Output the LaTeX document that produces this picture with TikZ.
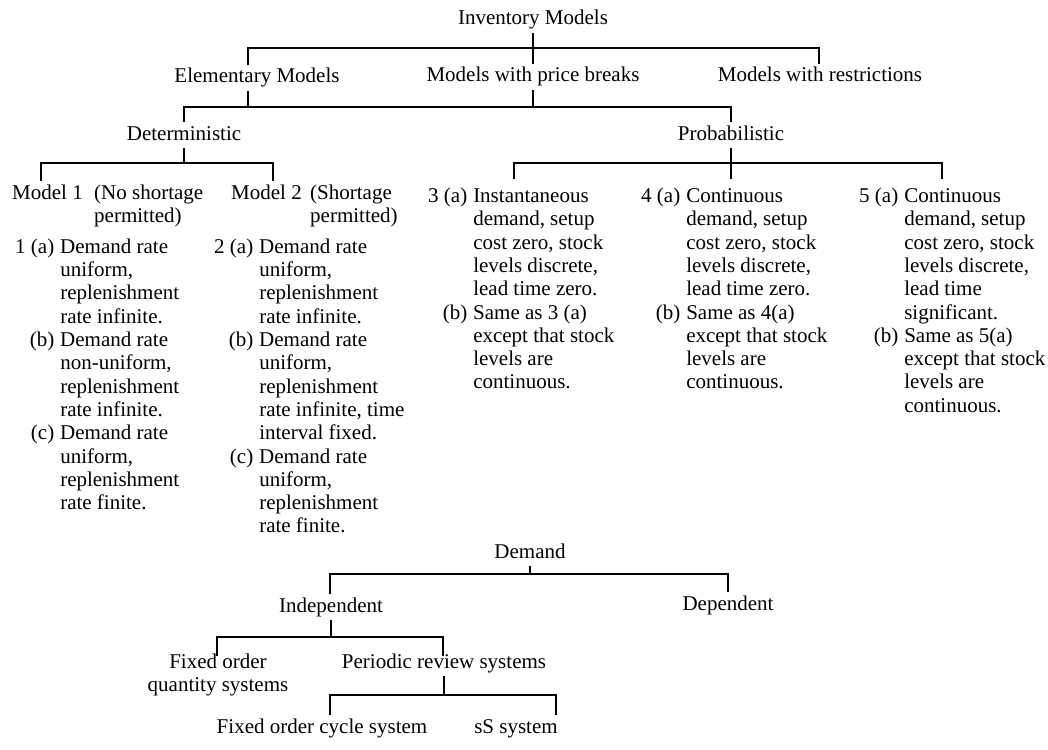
\documentclass[tikz,border=0pt]{standalone}
\usepackage{fontspec}
\setmainfont{Liberation Serif}

\newcommand{\modellist}[1]{\begin{tabular}[t]{@{}r@{\hspace{6pt}}l@{}}#1\end{tabular}}
\newcommand{\twolines}[1]{\begin{tabular}[t]{@{}l@{}}#1\end{tabular}}

\begin{document}
\begin{tikzpicture}[x=1pt,y=-1pt,
        every node/.style={font=\fontsize{21}{23.3}\selectfont},
        lbl/.style={inner sep=0pt,text height=18pt,text depth=8pt,anchor=base},
        blk/.style={inner xsep=0pt,inner ysep=7pt,anchor=base west},
        link/.style={line width=1.8pt},
        thinlink/.style={line width=1.1pt}]
    \useasboundingbox (0,0) rectangle (1048,749);

    % inventory models
    \node[lbl] (inv) at (533,25) {Inventory Models};
    \node[lbl] (elem) at (257,83) {Elementary Models};
    \node[lbl] (pb) at (533,82) {Models with price breaks};
    \node[lbl] (restr) at (820,82) {Models with restrictions};
    \node[lbl] (det) at (184,140) {Deterministic};
    \node[lbl] (prob) at (731,140) {Probabilistic};

    \node[lbl,anchor=base west] (m1) at (12,199) {Model 1};
    \node[blk,inner ysep=0pt] (m1n) at (94,199) {\twolines{(No shortage\\permitted)}};
    \node[lbl,anchor=base west] (m2) at (231,199) {Model 2};
    \node[blk,inner ysep=0pt] (m2n) at (310,199) {\twolines{(Shortage\\permitted)}};

    \node[blk] (c1) at (15,253.3) {\modellist{1 (a) & Demand rate\\ & uniform,\\ & replenishment\\ & rate infinite.\\
        (b) & Demand rate\\ & non-uniform,\\ & replenishment\\ & rate infinite.\\
        (c) & Demand rate\\ & uniform,\\ & replenishment\\ & rate finite.}};
    \node[blk] (c2) at (214,253.3) {\modellist{2 (a) & Demand rate\\ & uniform,\\ & replenishment\\ & rate infinite.\\
        (b) & Demand rate\\ & uniform,\\ & replenishment\\ & rate infinite, time\\ & interval fixed.\\
        (c) & Demand rate\\ & uniform,\\ & replenishment\\ & rate finite.}};
    \node[blk] (c3) at (428,202.5) {\modellist{3 (a) & Instantaneous\\ & demand, setup\\ & cost zero, stock\\ & levels discrete,\\ & lead time zero.\\
        (b) & Same as 3 (a)\\ & except that stock\\ & levels are\\ & continuous.}};
    \node[blk] (c4) at (641,202.5) {\modellist{4 (a) & Continuous\\ & demand, setup\\ & cost zero, stock\\ & levels discrete,\\ & lead time zero.\\
        (b) & Same as 4(a)\\ & except that stock\\ & levels are\\ & continuous.}};
    \node[blk] (c5) at (859,202.5) {\modellist{5 (a) & Continuous\\ & demand, setup\\ & cost zero, stock\\ & levels discrete,\\ & lead time\\ & significant.\\
        (b) & Same as 5(a)\\ & except that stock\\ & levels are\\ & continuous.}};

    \coordinate (t1) at (248,48);
    \coordinate (t2) at (819,48);
    \coordinate (s1) at (184,107);
    \coordinate (s2) at (731,107);
    \coordinate (u1) at (41,163);
    \coordinate (u2) at (273,163);
    \coordinate (v1) at (514,163);
    \coordinate (v2) at (942,163);

    \draw[link] (t1 |- elem.north) -- (t1) -- (t2) -- (t2 |- restr.north);
    \draw[link] (inv) -- (pb);
    \draw[link] (s1 |- det.north) -- (s1) -- (s2) -- (s2 |- prob.north);
    \draw[link] (t1 |- elem.south) -- (t1 |- s1);
    \draw[link] (pb) -- (pb |- s1);
    \draw[link] (u1 |- m1.north) -- (u1) -- (u2) -- (u2 |- m2.north);
    \draw[link] (det) -- (det |- u1);
    \draw[link] (v1 |- c3.north) -- (v1) -- (v2) -- (v2 |- c5.north);
    \draw[link] (prob) -- (prob |- c4.north);

    % demand
    \node[lbl] (dem) at (530,558) {Demand};
    \node[lbl] (indep) at (331,612) {Independent};
    \node[lbl] (dep) at (728,610) {Dependent};
    \node[lbl,text height=12pt] (fixq) at (218,668) {\begin{tabular}[t]{@{}c@{}}Fixed order\\quantity systems\end{tabular}};
    \node[lbl,text height=12pt] (peri) at (444,668) {Periodic review systems};
    \node[lbl] (cyc) at (322,733) {Fixed order cycle system};
    \node[lbl] (ss) at (516,733) {sS system};

    \coordinate (w1) at (330,574);
    \coordinate (w2) at (728,574);
    \coordinate (x1) at (217,637);
    \coordinate (x2) at (443,637);
    \coordinate (y1) at (330,695);
    \coordinate (y2) at (556,695);

    \draw[thinlink] (w1 |- indep.north) -- (w1) -- (w2) -- (w2 |- dep.north);
    \draw[thinlink] (dem) -- (dem |- w1);
    \draw[thinlink] (x1 |- fixq.north) -- (x1) -- (x2) -- (x2 |- peri.north);
    \draw[thinlink] (indep) -- (indep |- x1);
    \draw[thinlink] (y1 |- cyc.north) -- (y1) -- (y2) -- (y2 |- ss.north);
    \draw[thinlink] (peri) -- (peri |- y1);
\end{tikzpicture}
\end{document}
